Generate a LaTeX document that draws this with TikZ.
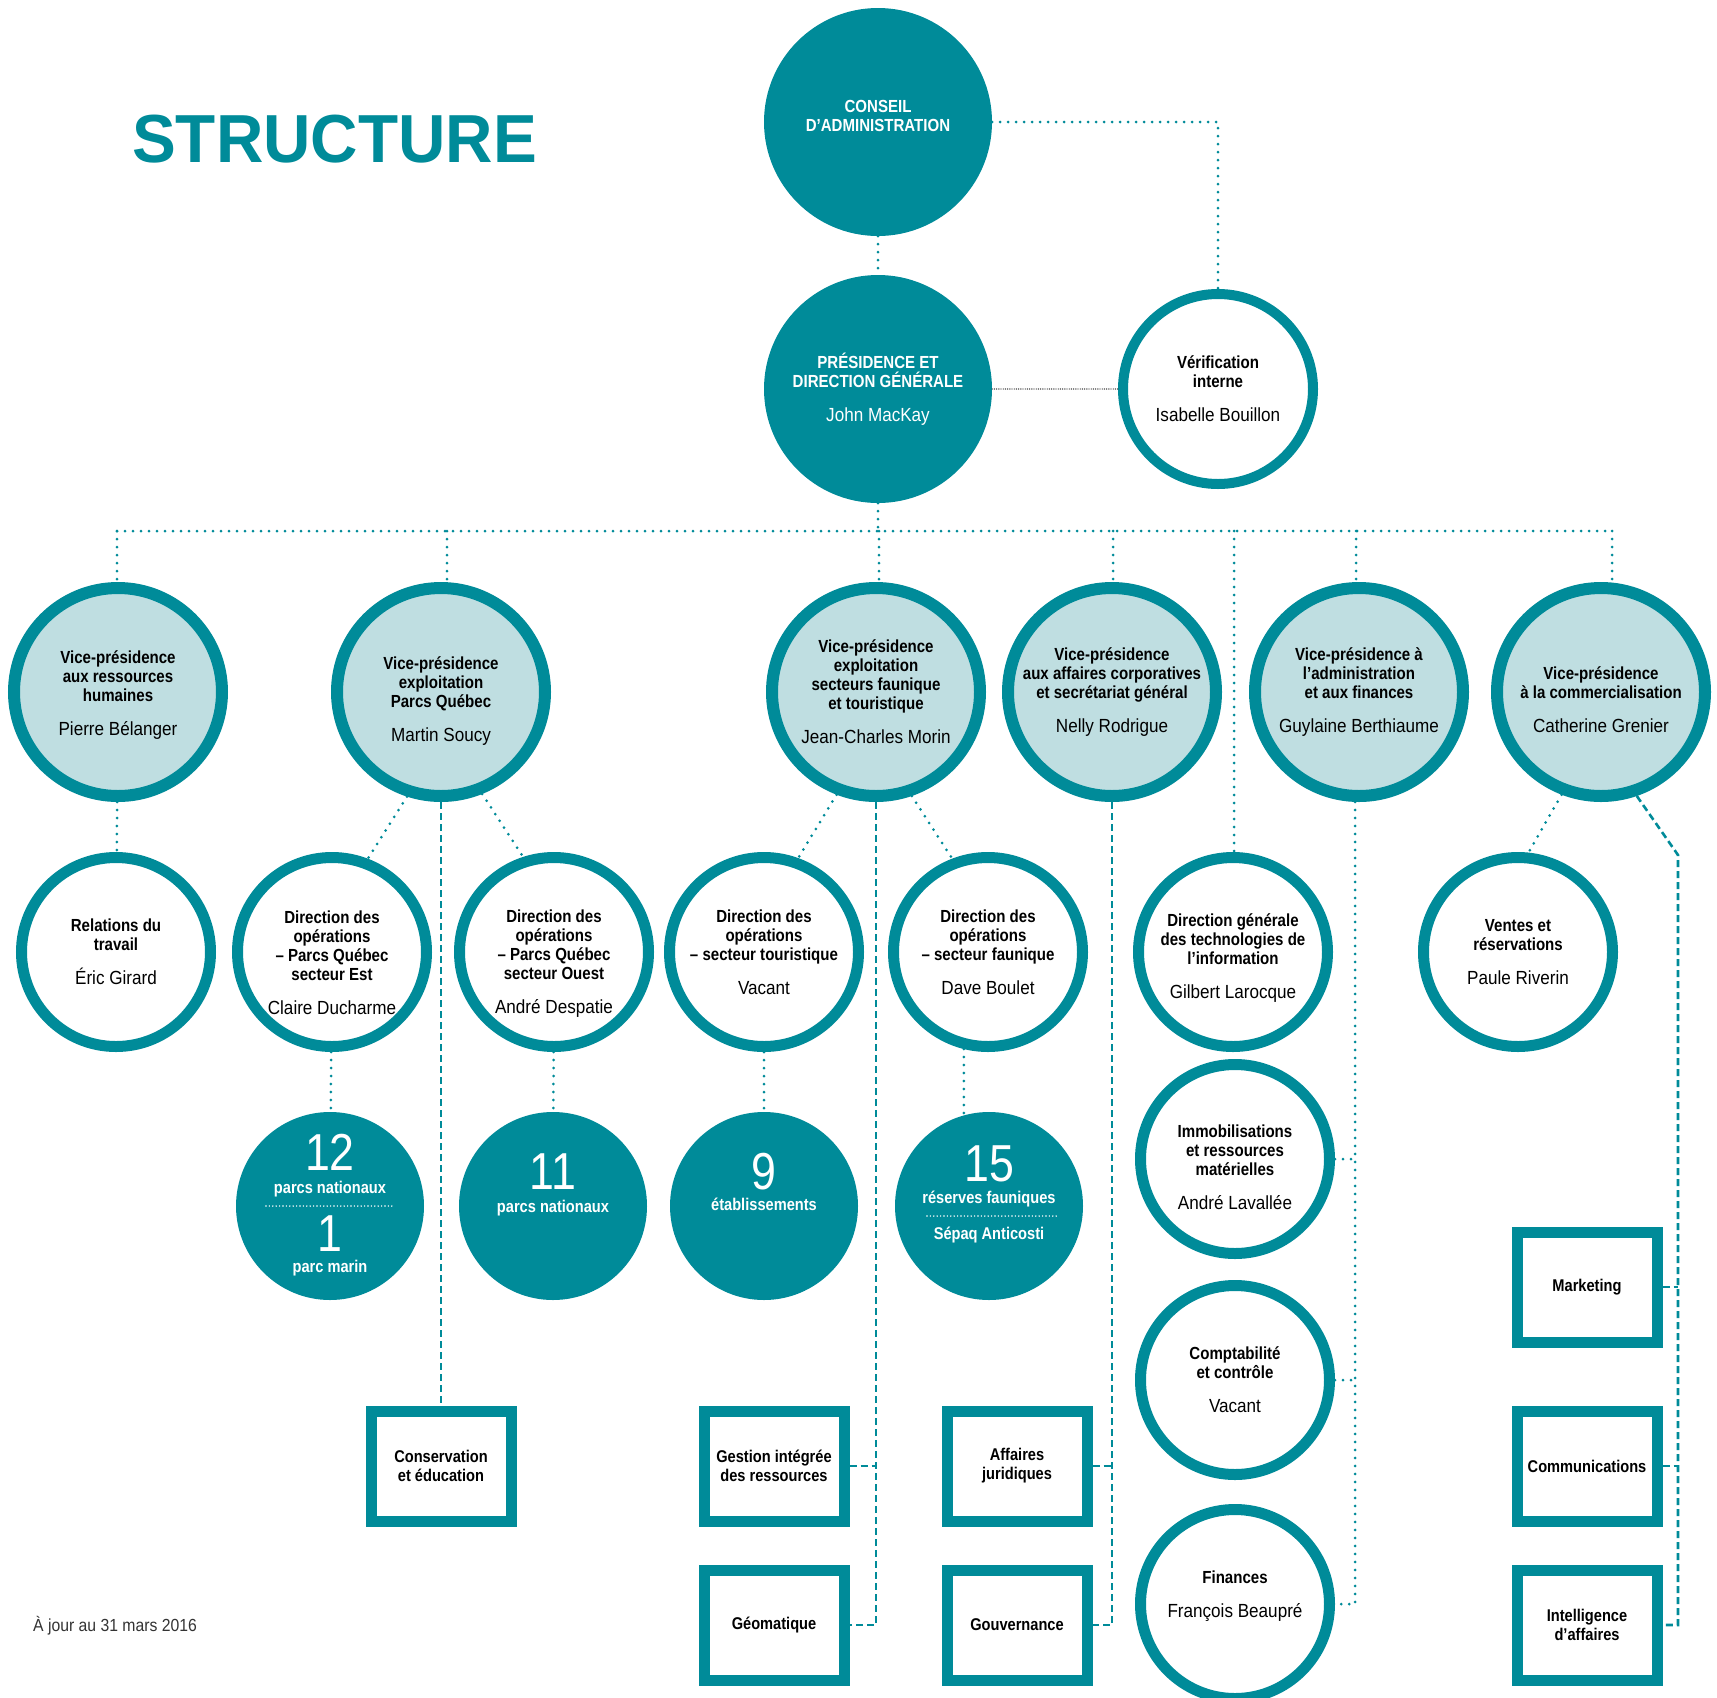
\documentclass[tikz,border=0pt]{standalone}
\usepackage{fontspec}
\setmainfont{Liberation Sans}[FakeStretch=0.86]
\newfontfamily\namefont{Liberation Sans}[FakeStretch=0.9]
\newfontfamily\titlefont{Liberation Sans}[FakeStretch=0.965]
\usepackage{xcolor}
\usepackage{tikz}

\definecolor{sepaq}{RGB}{0,139,153}
\definecolor{ice}{RGB}{191,222,225}

% name line under a unit title
\newcommand{\who}[1]{\\[15pt]{\namefont\mdseries\fontsize{19}{20}\selectfont #1}}

\begin{document}
\begin{tikzpicture}[
  x=1pt, y=-1pt,
  board/.style={circle, fill=sepaq, minimum size=228pt, inner sep=0pt,
    text=white, align=center, font=\fontsize{17.5}{19}\selectfont\bfseries},
  vp/.style={circle, fill=ice, draw=sepaq, line width=12pt, minimum size=208pt,
    inner sep=0pt, align=center, font=\fontsize{17.5}{19}\selectfont\bfseries},
  dir/.style={circle, fill=white, draw=sepaq, line width=11pt, minimum size=189pt,
    inner sep=0pt, align=center, font=\fontsize{17.5}{19}\selectfont\bfseries},
  tally/.style={circle, fill=sepaq, minimum size=188pt, inner sep=0pt},
  unit/.style={rectangle, fill=white, draw=sepaq, line width=11pt, minimum width=140pt,
    minimum height=110pt, inner sep=0pt, align=center,
    font=\fontsize{17}{19}\selectfont\bfseries},
  bignum/.style={anchor=base, text=white, inner sep=0pt, font=\fontsize{52}{52}\selectfont},
  numlab/.style={anchor=base, text=white, inner sep=0pt, font=\fontsize{17}{19}\selectfont\bfseries},
  dotline/.style={sepaq, line width=3pt, line cap=round, dash pattern=on 0pt off 8pt},
  dashline/.style={sepaq, line width=2.6pt, dash pattern=on 7pt off 4pt},
  fineline/.style={black!85, line width=1.4pt, line cap=round, dash pattern=on 0pt off 2.2pt},
  sepline/.style={white, line width=1.6pt, line cap=round, dash pattern=on 0pt off 3.4pt},
]
  % page: 1 unit = 1 pixel of the sheet, y downwards
  \fill[white] (0,0) rectangle (1717,1698);
  \useasboundingbox (0,0) rectangle (1717,1698);

  \node[anchor=base west, inner sep=0pt, text=sepaq,
    font=\titlefont\bfseries\fontsize{68}{68}\selectfont] (title) at (132,162) {STRUCTURE};

  % Board, presidency and audit
  \node[board, text depth=12pt] (cons) at (878,122) {CONSEIL\\D’ADMINISTRATION};
  \node[board] (pres) at (878,389) {PRÉSIDENCE ET\\DIRECTION GÉNÉRALE\who{John MacKay}};
  \node[dir, line width=10pt, minimum size=190pt] (verif) at (1218,389)
    {Vérification\\interne\who{Isabelle Bouillon}};

  % Vice-presidencies (row at y = 692)
  \node[vp, text height=90pt] (vp1) at (118,692) {Vice-présidence\\aux ressources\\humaines\who{Pierre Bélanger}};
  \node[vp, text height=103pt] (vp2) at (441,692) {Vice-présidence\\exploitation\\Parcs Québec\who{Martin Soucy}};
  \node[vp] (vp3) at (876,692) {Vice-présidence\\exploitation\\secteurs faunique\\et touristique\who{Jean-Charles Morin}};
  \node[vp] (vp4) at (1112,692) {Vice-présidence\\aux affaires corporatives\\et secrétariat général\who{Nelly Rodrigue}};
  \node[vp] (vp5) at (1359,692) {Vice-présidence à\\l’administration\\et aux finances\who{Guylaine Berthiaume}};
  \node[vp, text height=81pt] (vp6) at (1601,692) {Vice-présidence\\à la commercialisation\who{Catherine Grenier}};

  % Directions (row at y = 952)
  \node[dir] (rel) at (116,952) {Relations du\\travail\who{Éric Girard}};
  \node[dir, text height=126pt] (est) at (332,952) {Direction des\\opérations\\– Parcs Québec\\secteur Est\who{Claire Ducharme}};
  \node[dir, text height=126pt] (oue) at (554,952) {Direction des\\opérations\\– Parcs Québec\\secteur Ouest\who{André Despatie}};
  \node[dir] (tour) at (764,952) {Direction des\\opérations\\– secteur touristique\who{Vacant}};
  \node[dir] (faun) at (988,952) {Direction des\\opérations\\– secteur faunique\who{Dave Boulet}};
  \node[dir, text height=97pt] (ti) at (1233,952) {Direction générale\\des technologies de\\l’information\who{Gilbert Larocque}};
  \node[dir] (vent) at (1518,952) {Ventes et\\réservations\who{Paule Riverin}};

  % Administration column
  \node[dir, text height=101pt] (immo) at (1235,1159) {Immobilisations\\et ressources\\matérielles\who{André Lavallée}};
  \node[dir] (compt) at (1235,1380) {Comptabilité\\et contrôle\who{Vacant}};
  \node[dir, text depth=20pt] (fin) at (1235,1604) {Finances\who{François Beaupré}};

  % Networks (dark discs)
  \node[tally] (n12) at (330,1206) {};
  \node[bignum] (n12a) at ([yshift=36pt]n12.center) {12};
  \node[numlab] (n12b) at ([yshift=13pt]n12.center) {parcs nationaux};
  \draw[sepline] ([xshift=-64pt]n12.center) -- ([xshift=64pt]n12.center);
  \node[bignum] (n12c) at ([yshift=-45pt]n12.center) {1};
  \node[numlab] (n12d) at ([yshift=-66pt]n12.center) {parc marin};

  \node[tally] (n11) at (553,1206) {};
  \node[bignum] (n11a) at ([yshift=17pt]n11.center) {11};
  \node[numlab] (n11b) at ([yshift=-6pt]n11.center) {parcs nationaux};

  \node[tally] (n9) at (764,1206) {};
  \node[bignum] (n9a) at ([yshift=17pt]n9.center) {9};
  \node[numlab] (n9b) at ([yshift=-4pt]n9.center) {établissements};

  \node[tally] (n15) at (989,1206) {};
  \node[bignum] (n15a) at ([yshift=25pt]n15.center) {15};
  \node[numlab] (n15b) at ([yshift=3pt]n15.center) {réserves fauniques};
  \draw[sepline] ([xshift=-62pt,yshift=-10pt]n15.center) -- ([xshift=68pt,yshift=-10pt]n15.center);
  \node[numlab] (n15c) at ([yshift=-33pt]n15.center) {Sépaq Anticosti};

  % Services (squares)
  \foreach \n/\x/\y/\t in {%
    cedu/441/1466/{Conservation\\et éducation},%
    gir/774/1466/{Gestion intégrée\\des ressources},%
    geo/774/1625/{Géomatique},%
    affj/1017/1466/{Affaires\\juridiques},%
    gouv/1017/1625/{Gouvernance},%
    mkt/1587/1287/{Marketing},%
    comm/1587/1466/{Communications},%
    intel/1587/1625/{Intelligence\\d’affaires}%
  }{
    \node[unit] (\n) at (\x,\y) {\t};
  }

  \node[anchor=base west, inner sep=0pt, text=black!80,
    font=\namefont\fontsize{17.5}{18}\selectfont] (stamp) at (33,1631) {À jour au 31 mars 2016};

  % Links at the top
  \draw[dotline] (cons) -- (pres);
  \draw[dotline] (cons.east) -| (verif.north);
  \draw[fineline] (pres.east) -- (verif.west);

  % Main bar and its taps
  \foreach \n/\x in {vp1/117, vp2/447, vp3/879, vp4/1113, ti/1234, vp5/1356, vp6/1612} {
    \coordinate (t\n) at (\x,531);
    \draw[dotline] (t\n) -- (t\n |- \n.north);
  }
  \draw[dotline] (tvp1) -- (tvp6);
  \draw[dotline] (pres.south) -- (pres.south |- tvp1);

  % Second level
  \draw[dotline] (vp1) -- (rel);
  \draw[dotline] (vp2.-108) -- (est.69);
  \draw[dotline] (vp2.-68) -- (oue.108);
  \draw[dotline] (vp3.-111) -- (tour.70);
  \draw[dotline] (vp3.-71) -- (faun.111);
  \draw[dotline] (vp6.-111) -- (vent.84);

  % Dashed service lines
  \draw[dashline] (vp2.south) -- (cedu.north);
  \draw[dashline] (vp3.south) |- (geo.east);
  \draw[dashline] (gir.east) -- (gir.east -| vp3.south);
  \draw[dashline] (vp4.south) |- (gouv.east);
  \draw[dashline] (affj.east) -- (affj.east -| vp4.south);
  \coordinate (knee) at (1678,855);
  \draw[dashline] (vp6.-71) -- (knee) |- (intel.east);
  \draw[dashline] (mkt.east) -- (mkt.east -| knee);
  \draw[dashline] (comm.east) -- (comm.east -| knee);

  % Administration column
  \draw[dotline] (vp5.-92) |- (fin.east);
  \draw[dotline] (immo.east) -- (immo.east -| vp5.-92);
  \draw[dotline] (compt.east) -- (compt.east -| vp5.-92);

  % Down to the networks
  \draw[dotline] (est) -- (n12);
  \draw[dotline] (oue) -- (n11);
  \draw[dotline] (tour) -- (n9);
  \draw[dotline] (faun.-104) -- (faun.-104 |- n15.104);
\end{tikzpicture}
\end{document}
